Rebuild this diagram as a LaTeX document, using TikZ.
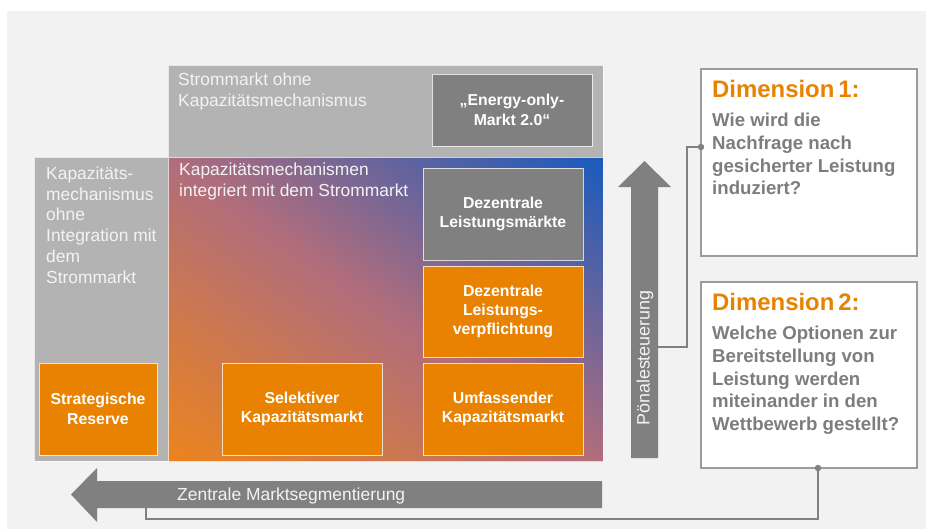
\documentclass[tikz,border=0pt]{standalone}
\usepackage{fontspec}
\setmainfont{Liberation Sans}
\definecolor{bgray}{RGB}{242,242,242}
\definecolor{midgray}{RGB}{178,179,178}
\definecolor{dkgray}{RGB}{127,128,127}
\definecolor{orng}{RGB}{232,130,0}
\definecolor{gblue}{RGB}{24,90,190}
\definecolor{gorange}{RGB}{236,132,28}
\definecolor{gmauve}{RGB}{176,109,124}
\definecolor{txtgray}{RGB}{125,125,125}
\definecolor{lighttxt}{RGB}{243,243,243}
\definecolor{connc}{RGB}{128,128,128}
\definecolor{dimborder}{RGB}{155,155,155}
\begin{document}
\begin{tikzpicture}[x=0.03cm,y=-0.03cm,
  panel/.style={draw=white, draw opacity=0.7, line width=0.6pt},
  boxbase/.style={draw=white, draw opacity=0.75, line width=0.85pt, inner sep=2pt,
    text=white, align=center, font=\bfseries\fontsize{13.5}{16.5}\selectfont},
  orangebox/.style={boxbase, fill=orng},
  graybox/.style={boxbase, fill=dkgray},
  paneltext/.style={anchor=north west, inner sep=0pt, align=left,
    text=lighttxt, font=\fontsize{14.85}{17.9}\selectfont},
  dimbox/.style={draw=dimborder, line width=1.2pt, fill=white,
    minimum width=6.48cm},
  dimtitle/.style={anchor=base west, inner sep=0pt, text=orng,
    font=\bfseries\fontsize{20.4}{24}\selectfont},
  question/.style={anchor=north west, inner sep=0pt, align=left, text=txtgray,
    font=\bfseries\fontsize{15.9}{19.4}\selectfont},
  bigarrow/.style={fill=dkgray},
  conn/.style={draw=connc, line width=1.6pt},
  dot/.style={circle, fill=connc, inner sep=0pt, minimum size=5.5pt}
]
\useasboundingbox (0,0) rectangle (926,529);
\fill[white] (0,0) rectangle (926,529);
\fill[bgray] (7,11) rectangle (926,529);

% panels
\fill[midgray] (168,65) rectangle (603,157);
\draw[panel] (168,65) rectangle (603,157);
\fill[midgray] (34,157) rectangle (168,461);
\draw[panel] (34,157) rectangle (168,461);
\begin{scope}
  \clip (168,157) rectangle (603,461);
  \begin{scope}[transform canvas={shift={(385.5,309)}, rotate=55.05}]
    \shade[left color=gorange, right color=gblue, middle color=gmauve]
      (-249.2,-320) rectangle (249.2,320);
  \end{scope}
\end{scope}
\draw[panel] (168,157) rectangle (603,461);

% panel texts
\node[paneltext, font=\fontsize{14.85}{18.4}\selectfont] (t1) at (178,72.5)
  {Strommarkt ohne\\Kapazitätsmechanismus};
\node[paneltext, font=\fontsize{14.85}{18.0}\selectfont] (t2) at (179,162.5)
  {Kapazitätsmechanismen\\integriert mit dem Strommarkt};
\node[paneltext, font=\fontsize{14.85}{17.75}\selectfont] (t3) at (46,166.5)
  {Kapazitäts-\\mechanismus\\ohne\\Integration mit\\dem\\Strommarkt};

% boxes
\node[graybox, minimum width=4.8cm, minimum height=2.16cm] (eom) at (512,110)
  {„Energy-only-\\Markt 2.0“};
\node[graybox, minimum width=4.8cm, minimum height=2.76cm] (dlm) at (503,214)
  {Dezentrale\\Leistungsmärkte};
\node[orangebox, minimum width=4.8cm, minimum height=2.73cm] (dlv) at (503,311.5)
  {Dezentrale\\Leistungs-\\verpflichtung};
\node[orangebox, minimum width=4.8cm, minimum height=2.76cm] (ukm) at (503,409)
  {Umfassender\\Kapazitätsmarkt};
\node[orangebox, minimum width=4.8cm, minimum height=2.76cm] (skm) at (302,409)
  {Selektiver\\Kapazitätsmarkt};
\node[orangebox, minimum width=3.54cm, minimum height=2.76cm] (sr) at (98,409)
  {Strategische\\Reserve};

% big arrows
\fill[bigarrow] (631,458) -- (631,187) -- (618,187) -- (644.5,161) -- (671,187)
  -- (658,187) -- (658,458) -- cycle;
\node[rotate=90, text=lighttxt, inner sep=0pt, font=\fontsize{15.3}{18}\selectfont]
  (pen) at (645,358) {Pönalesteuerung};
\fill[bigarrow] (602,481) -- (97,481) -- (97,468) -- (71,494.5) -- (97,522)
  -- (97,508) -- (602,508) -- cycle;
\node[anchor=base west, text=lighttxt, inner sep=0pt, font=\fontsize{14.9}{18}\selectfont]
  (zms) at (177,500) {Zentrale Marktsegmentierung};

% dimension boxes
\node[dimbox, minimum height=5.61cm] (dim1) at (809,162.5) {};
\node[dimbox, minimum height=5.58cm] (dim2) at (809,375) {};
\node[dimtitle] (d1t) at (712,97) {Dimension\,1:};
\node[question] (d1q) at (712,113)
  {Wie wird die\\Nachfrage nach\\gesicherter Leistung\\induziert?};
\node[dimtitle] (d2t) at (712,310) {Dimension\,2:};
\node[question] (d2q) at (712,326)
  {Welche Optionen zur\\Bereitstellung von\\Leistung werden\\miteinander in den\\Wettbewerb gestellt?};

% connectors
\coordinate (a1) at (658,347);
\coordinate (e1) at (701,147);
\draw[conn] (a1) -- (687,347) |- (e1);
\node[dot] (dot1) at (e1) {};
\coordinate (e2) at (818,468);
\coordinate (a2) at (146,508);
\draw[conn] (e2) |- (146,519) -- (a2);
\node[dot] (dot2) at (e2) {};
\end{tikzpicture}
\end{document}
